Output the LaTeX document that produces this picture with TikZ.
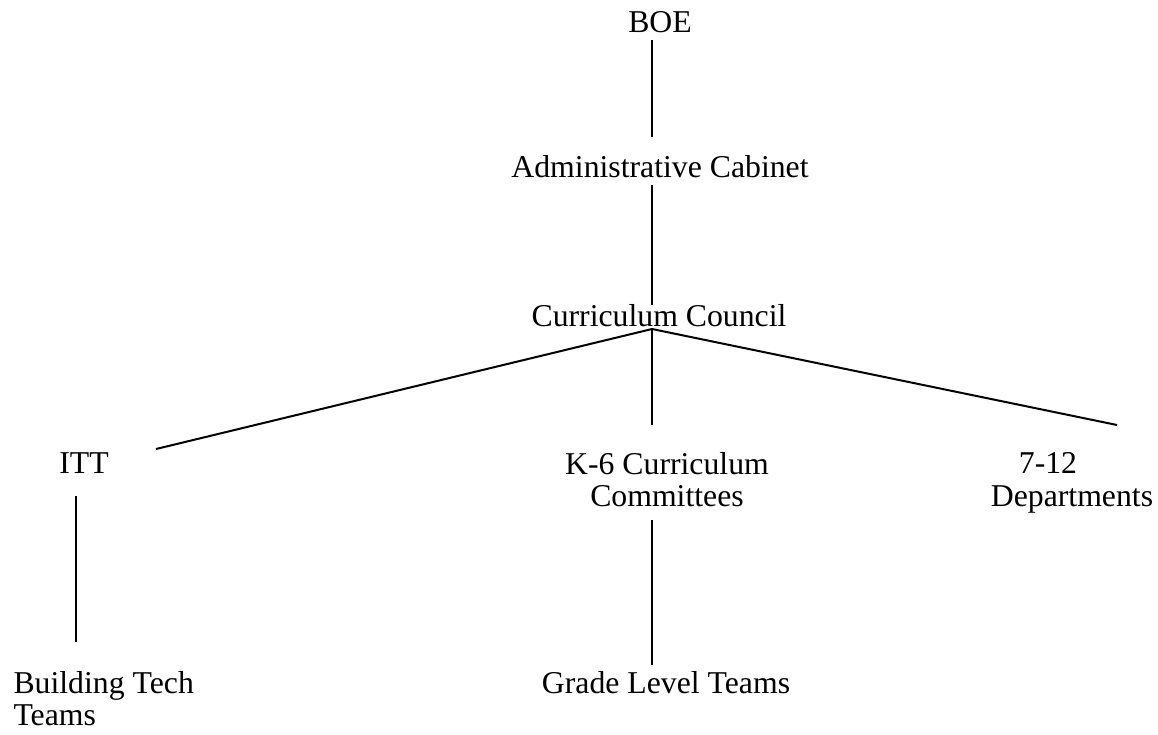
\documentclass[tikz,border=0pt]{standalone}
\usepackage{fontspec}
\setmainfont{Liberation Serif}
\begin{document}
\begin{tikzpicture}[x=0.4pt,y=-0.4pt,
  lbl/.style={inner sep=0pt,anchor=base,font=\fontsize{12.7pt}{12.8pt}\selectfont},
  link/.style={line width=0.8pt}]
\useasboundingbox (0,0) rectangle (1158,734);
% labels (multi-line labels are anchored at the baseline of their last line)
\node[lbl] (boe) at (660,32) {BOE};
\node[lbl] (cab) at (660,177) {Administrative Cabinet};
\node[lbl] (cc) at (659,326) {Curriculum Council};
\node[lbl] (itt) at (84,473) {ITT};
\node[lbl,align=center] (k6) at (667,506) {K-6 Curriculum\\Committees};
\node[lbl] (d1) at (1048,473) {7-12};
\node[lbl] (d2) at (1072,506) {Departments};
\node[lbl,anchor=base west,align=left] (btt) at (13,725) {Building Tech\\Teams};
\node[lbl] (glt) at (666,693) {Grade Level Teams};
% line end points
\coordinate (boe-s) at (652,40);
\coordinate (cab-n) at (652,137);
\coordinate (cab-s) at (652,185);
\coordinate (cc-n) at (652,305);
\coordinate (cc-s) at (652,329);
\coordinate (itt-n) at (156,449);
\coordinate (k6-n) at (652,425);
\coordinate (dep-n) at (1117,425);
\coordinate (itt-s) at (76,496);
\coordinate (btt-n) at (76,642);
\coordinate (k6-s) at (652,520);
\coordinate (glt-n) at (652,665);
% connectors
\draw[link] (boe-s) -- (cab-n);
\draw[link] (cab-s) -- (cc-n);
\draw[link] (cc-s) -- (itt-n);
\draw[link] (cc-s) -- (k6-n);
\draw[link] (cc-s) -- (dep-n);
\draw[link] (itt-s) -- (btt-n);
\draw[link] (k6-s) -- (glt-n);
\end{tikzpicture}
\end{document}
